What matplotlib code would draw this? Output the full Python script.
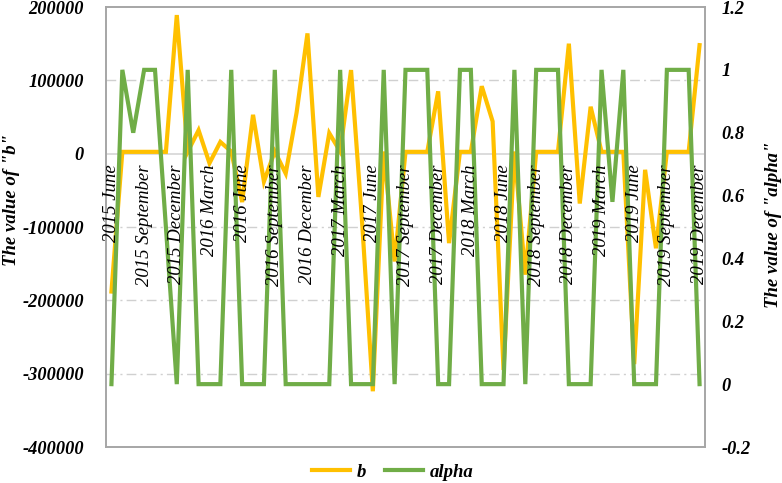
import matplotlib
matplotlib.use("Agg")
import matplotlib.pyplot as plt
from matplotlib import transforms
import numpy as np

# ---------------- data ----------------
full_months = ['January', 'February', 'March', 'April', 'May', 'June', 'July',
               'August', 'September', 'October', 'November', 'December']
start_year = 2015
start_month = 5          # June
n_points = 55
categories = [f"{start_year + (start_month + k) // 12} {full_months[(start_month + k) % 12]}"
              for k in range(n_points)]

b_values = [-188000, 2500, 2500, 2500, 2500, 2500, 189000, 2500, 32000, -13000,
            16000, 3000, -66000, 53000, -38000, 3000, -27000, 56000, 164000, -59000,
            28000, 3000, 114000, -90000, -324000, 3000, -147000, 2500, 2500, 2500,
            85000, -122000, 2500, 2500, 92000, 44000, -295000, 3000, -165000, 2500,
            2500, 2500, 150000, -68000, 64000, 2500, 2500, 2500, -287000, -22000,
            -129000, 2500, 2500, 2500, 148000]

alpha_values = [0, 1, 0.8, 1, 1, 0.5, 0, 1, 0, 0,
                0, 1, 0, 0, 0, 1, 0, 0, 0, 0,
                0, 1, 0, 0, 0, 1, 0, 1, 1, 1,
                0, 0, 1, 1, 0, 0, 0, 1, 0, 1,
                1, 1, 0, 0, 0, 1, 0.58, 1, 0, 0,
                0, 1, 1, 1, 0]

left_ticks = [-400000, -300000, -200000, -100000, 0, 100000, 200000]
right_ticks = [-0.2, 0, 0.2, 0.4, 0.6, 0.8, 1, 1.2]
right_tick_labels = ["-0.2", "0", "0.2", "0.4", "0.6", "0.8", "1", "1.2"]
label_step = 3

# ---------------- style ----------------
ORANGE = "#FFC000"
GREEN = "#70AD47"
GRID = "#D0D0D0"
FRAME = "#A6A6A6"
SERIF = ["Liberation Serif", "DejaVu Serif"]

W, H = 782, 483
fig = plt.figure(figsize=(W / 100, H / 100), dpi=100)
ax = fig.add_axes([106 / W, 1 - 447 / H, (705 - 106) / W, (447 - 7) / H])
ax2 = ax.twinx()

x = np.arange(n_points)

ax.set_xlim(-0.5, n_points - 0.5)
ax.set_ylim(-400000, 200000)
ax2.set_ylim(-0.2, 1.2)

# grid lines
for v in left_ticks[1:-1]:
    if v == 0:
        ax.axhline(v, color="#D9D9D9", lw=1.3, zorder=1)
    else:
        ax.axhline(v, color=GRID, lw=1.0, ls=(0, (7, 3, 1.5, 3)), zorder=1)

ax.plot(x, b_values, color=ORANGE, lw=3.0, zorder=3, label="b",
        solid_joinstyle="miter")
ax2.plot(x, alpha_values, color=GREEN, lw=3.0, zorder=3, label="alpha",
         solid_joinstyle="miter")

# ticks
ax.set_xticks([])
ax.set_yticks(left_ticks)
ax.set_yticklabels([str(v) for v in left_ticks], fontfamily=SERIF,
                   fontweight="bold", fontstyle="italic", fontsize=13.2)
ax2.set_yticks(right_ticks)
ax2.set_yticklabels(right_tick_labels, fontfamily=SERIF,
                    fontweight="bold", fontstyle="italic", fontsize=13.2)
ax.tick_params(axis="y", length=0, pad=16)
ax2.tick_params(axis="y", length=0, pad=12)

for a in (ax, ax2):
    for s in a.spines.values():
        s.set_color(FRAME)
        s.set_linewidth(1.2)

# category labels (inside plot, below the zero line)
off = transforms.offset_copy(ax.transData, fig=fig, x=0, y=-11, units="dots")
for i in range(0, n_points, label_step):
    ax2.text(x[i], 0, categories[i], transform=off, rotation=90,
             ha="center", va="top", fontfamily=SERIF, fontstyle="italic",
             fontsize=13.5, color="black", zorder=10)

# axis titles
fig.text(12 / W, 1 - 200 / H, 'The value of "b"', rotation=90, ha="center",
         va="center", fontfamily=SERIF, fontweight="bold", fontstyle="italic",
         fontsize=13.5)
fig.text(773 / W, 1 - 225 / H, 'The value of "alpha"', rotation=90, ha="center",
         va="center", fontfamily=SERIF, fontweight="bold", fontstyle="italic",
         fontsize=13.5)

# legend
h1, l1 = ax.get_legend_handles_labels()
h2, l2 = ax2.get_legend_handles_labels()
fig.legend(h1 + h2, l1 + l2, loc="center", bbox_to_anchor=(393 / W, 1 - 472 / H),
           ncol=2, frameon=False, handlelength=2.0, handletextpad=0.4,
           columnspacing=1.0,
           prop=dict(family=SERIF, weight="bold", style="italic", size=13.5))

fig.savefig("out.png", dpi=100)
